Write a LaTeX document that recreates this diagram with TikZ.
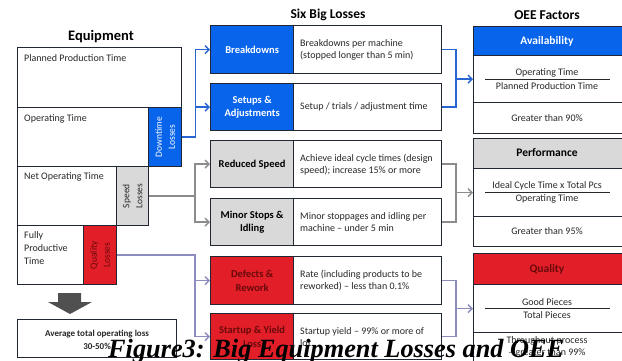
\documentclass[tikz,border=0pt]{standalone}
\usepackage{fontspec}
\usepackage{graphicx}
\setmainfont{Carlito}
\newfontfamily\capfont{Liberation Serif}
\usetikzlibrary{arrows.meta}
\definecolor{bblue}{RGB}{8,100,235}
\definecolor{lgrey}{RGB}{217,217,217}
\definecolor{bred}{RGB}{226,30,40}
\definecolor{dred}{RGB}{105,10,10}
\definecolor{edge}{RGB}{32,38,50}
\definecolor{cblue}{RGB}{40,100,210}
\definecolor{cgrey}{RGB}{140,140,140}
\definecolor{clav}{RGB}{140,140,190}
\definecolor{txt}{RGB}{40,40,40}
\definecolor{arrgrey}{RGB}{80,80,80}
\begin{document}
\begin{tikzpicture}[x=1pt,y=-1pt,
  box/.style={draw=edge,line width=1.3pt,inner sep=0pt,anchor=north west},
  bl/.style={box,fill=bblue},
  gr/.style={box,fill=lgrey},
  rd/.style={box,fill=bred},
  wt/.style={box,fill=white},
  ttl/.style={font=\fontsize{13.5}{15}\selectfont\bfseries,text=black},
  body/.style={font=\fontsize{10}{12}\selectfont,text=txt,inner sep=0pt},
  lab/.style={font=\fontsize{10.5}{13.5}\selectfont\bfseries,align=center,inner sep=0pt},
  rot/.style={font=\fontsize{9.5}{13}\selectfont,align=center,rotate=90,inner sep=0pt},
  cb/.style={draw=cblue,line width=1.4pt},
  cg/.style={draw=cgrey,line width=1.4pt},
  cl/.style={draw=clav,line width=1.4pt},
  tip/.style={-{Straight Barb[length=4pt,width=8pt,line width=1.4pt]}},
  frac/.style={draw=txt,line width=1pt}
]
\useasboundingbox (0,0) rectangle (622,360);
\fill[white] (0,0) rectangle (622,360);

% ---------- titles
\node[ttl,font=\fontsize{14.5}{16}\selectfont\bfseries] (t1) at (101,37) {Equipment};
\node[ttl] (t2) at (328,15) {Six Big Losses};
\node[ttl] (t3) at (547,15) {OEE Factors};

% ---------- Equipment
\node[wt,minimum width=164pt,minimum height=60pt] (plan) at (17,47) {};
\node[wt,minimum width=131pt,minimum height=59pt] (op) at (17,107) {};
\node[bl,minimum width=33pt,minimum height=59pt] (down) at (148,107) {};
\node[wt,minimum width=99pt,minimum height=59pt] (net) at (17,166) {};
\node[gr,minimum width=32pt,minimum height=59pt] (speed) at (116,166) {};
\node[wt,minimum width=66pt,minimum height=59pt] (full) at (17,225) {};
\node[rd,minimum width=33pt,minimum height=59pt] (qloss) at (83,225) {};

\node[body,anchor=north west] (tplan) at ([shift={(7,7)}]plan.north west) {Planned Production Time};
\node[body,anchor=north west] (top) at ([shift={(7,7)}]op.north west) {Operating Time};
\node[body,anchor=north west] (tnet) at ([shift={(7,6)}]net.north west) {Net Operating Time};
\node[body,anchor=north west,align=left,font=\fontsize{10}{13}\selectfont] (tfull) at ([shift={(7,6)}]full.north west) {Fully\\Productive\\Time};
\node[rot,text=white] (tdown) at (down.center) {Downtime\\Losses};
\node[rot,text=txt] (tspeed) at (speed.center) {Speed\\Losses};
\node[rot,text=dred] (tqloss) at (qloss.center) {Quality\\Losses};

% down arrow and summary
\fill[arrgrey] (58,293) -- (81,293) -- (81,302) -- (92,302) -- (70,314) -- (48,302) -- (58,302) -- cycle;
\node[wt,line width=1.1pt,minimum width=159pt,minimum height=38pt] (avg) at (17,319) {};
\node[font=\fontsize{9}{13}\selectfont\bfseries,align=center,text=txt,inner sep=0pt] (tavg) at ([yshift=-1pt]avg.center) {Average total operating loss\\30-50\%};

% ---------- Six Big Losses
\node[bl,minimum width=83pt,minimum height=48pt] (brk) at (210,25) {};
\node[wt,minimum width=148pt,minimum height=48pt] (brkd) at (293,25) {};
\node[bl,minimum width=83pt,minimum height=47pt] (set) at (210,83) {};
\node[wt,minimum width=148pt,minimum height=47pt] (setd) at (293,83) {};
\node[gr,minimum width=83pt,minimum height=47pt] (red) at (210,140) {};
\node[wt,minimum width=148pt,minimum height=47pt] (redd) at (293,140) {};
\node[gr,minimum width=83pt,minimum height=47pt] (min) at (210,198) {};
\node[wt,minimum width=148pt,minimum height=47pt] (mind) at (293,198) {};
\node[rd,minimum width=83pt,minimum height=48pt] (def) at (210,256) {};
\node[wt,minimum width=148pt,minimum height=48pt] (defd) at (293,256) {};
\node[rd,minimum width=83pt,minimum height=46pt] (stu) at (210,313) {};
\node[wt,minimum width=148pt,minimum height=46pt] (stud) at (293,313) {};

\node[lab,text=white] (lbrk) at (brk.center) {Breakdowns};
\node[lab,text=white] (lset) at (set.center) {Setups \&\\Adjustments};
\node[lab,text=black] (lred) at (red.center) {Reduced Speed};
\node[lab,text=black] (lmin) at (min.center) {Minor Stops \&\\Idling};
\node[lab,text=dred] (ldef) at (def.center) {Defects \&\\Rework};
\node[lab,text=dred] (lstu) at (stu.center) {Startup \& Yield\\Loss};

\node[body,anchor=west,align=left] (dbrk) at ([xshift=7pt]brkd.west) {Breakdowns per machine\\(stopped longer than 5 min)};
\node[body,anchor=west,align=left] (dset) at ([xshift=7pt]setd.west) {Setup / trials / adjustment time};
\node[body,anchor=west,align=left] (dred) at ([xshift=7pt]redd.west) {Achieve ideal cycle times (design\\speed); increase 15\% or more};
\node[body,anchor=west,align=left] (dmin) at ([xshift=7pt]mind.west) {Minor stoppages and idling per\\machine -- under 5 min};
\node[body,anchor=west,align=left] (ddef) at ([xshift=7pt]defd.west) {Rate (including products to be\\reworked) -- less than 0.1\%};
\node[body,anchor=west,align=left] (dstu) at ([xshift=7pt]stud.west) {Startup yield -- 99\% or more of\\lot};

% ---------- OEE Factors
\node[bl,minimum width=152pt,minimum height=29pt] (ah) at (473,26) {};
\node[wt,minimum width=152pt,minimum height=47pt] (af) at (473,55) {};
\node[wt,minimum width=152pt,minimum height=31pt] (ag) at (473,102) {};
\node[gr,minimum width=152pt,minimum height=30pt] (ph) at (473,138) {};
\node[wt,minimum width=152pt,minimum height=48pt] (pf) at (473,168) {};
\node[wt,minimum width=152pt,minimum height=30pt] (pg) at (473,216) {};
\node[rd,minimum width=152pt,minimum height=31pt] (qh) at (473,253) {};
\node[wt,minimum width=152pt,minimum height=48pt] (qf) at (473,284) {};
\node[wt,minimum width=152pt,minimum height=40pt] (qg) at (473,332) {};

\node[lab,font=\fontsize{11.5}{13}\selectfont\bfseries,text=white] (lah) at (547,41) {Availability};
\node[lab,font=\fontsize{11.5}{13}\selectfont\bfseries,text=black] (lph) at (547,153) {Performance};
\node[lab,font=\fontsize{11.5}{13}\selectfont\bfseries,text=dred] (lqh) at (547,269) {Quality};

\coordinate (fa1) at (485,79); \coordinate (fa2) at (610,79);
\draw[frac] (fa1) -- (fa2);
\node[body] (an) at (547,73) {Operating Time};
\node[body] (ad) at (547,86) {Planned Production Time};
\node[body] (agt) at (547,118) {Greater than 90\%};
\coordinate (fp1) at (485,192); \coordinate (fp2) at (610,192);
\draw[frac] (fp1) -- (fp2);
\node[body] (pn) at (547,186) {Ideal Cycle Time x Total Pcs};
\node[body] (pd) at (547,199) {Operating Time};
\node[body] (pgt) at (547,231) {Greater than 95\%};
\coordinate (fq1) at (485,308); \coordinate (fq2) at (610,308);
\draw[frac] (fq1) -- (fq2);
\node[body] (qn) at (547,302) {Good Pieces};
\node[body] (qd) at (547,315) {Total Pieces};
\node[body,align=center] (qgt) at (547,347) {Throughout process\\-- greater than 99\%};

% ---------- connectors left
\coordinate (j1) at ([xshift=13pt]down.east);
\draw[cb,tip] (down.east) -- (j1) |- (brk.west);
\draw[cb,tip] (j1) |- (set.west);
\coordinate (j2) at (195,0);
\draw[cg,tip] (speed.east) -- (j2 |- speed.east) |- (red.west);
\draw[cg,tip] (j2 |- speed.east) |- (min.west);
\draw[cl,tip] (qloss.east) -- (j2 |- qloss.east) |- (def.west);
\draw[cl,tip] (j2 |- qloss.east) |- (stu.west);

% ---------- connectors right
\coordinate (k) at (456,0);
\draw[cb] (brkd.east) -| (k |- setd.east) -- (setd.east);
\draw[cb,tip] (k |- af.west) -- (af.west);
\draw[cg] (redd.east) -| (k |- mind.east) -- (mind.east);
\draw[cg,tip] (k |- pf.west) -- (pf.west);
\draw[cl] (defd.east) -| (k |- stud.east) -- (stud.east);
\draw[cl,tip] (k |- qf.west) -- (qf.west);

% ---------- caption
\node[anchor=base west,inner sep=0pt] (cap) at (108,357) {\resizebox{456pt}{!}{\capfont\bfseries\itshape\fontsize{26}{26}\selectfont Figure3: Big Equipment Losses and OEE}};
\end{tikzpicture}
\end{document}
